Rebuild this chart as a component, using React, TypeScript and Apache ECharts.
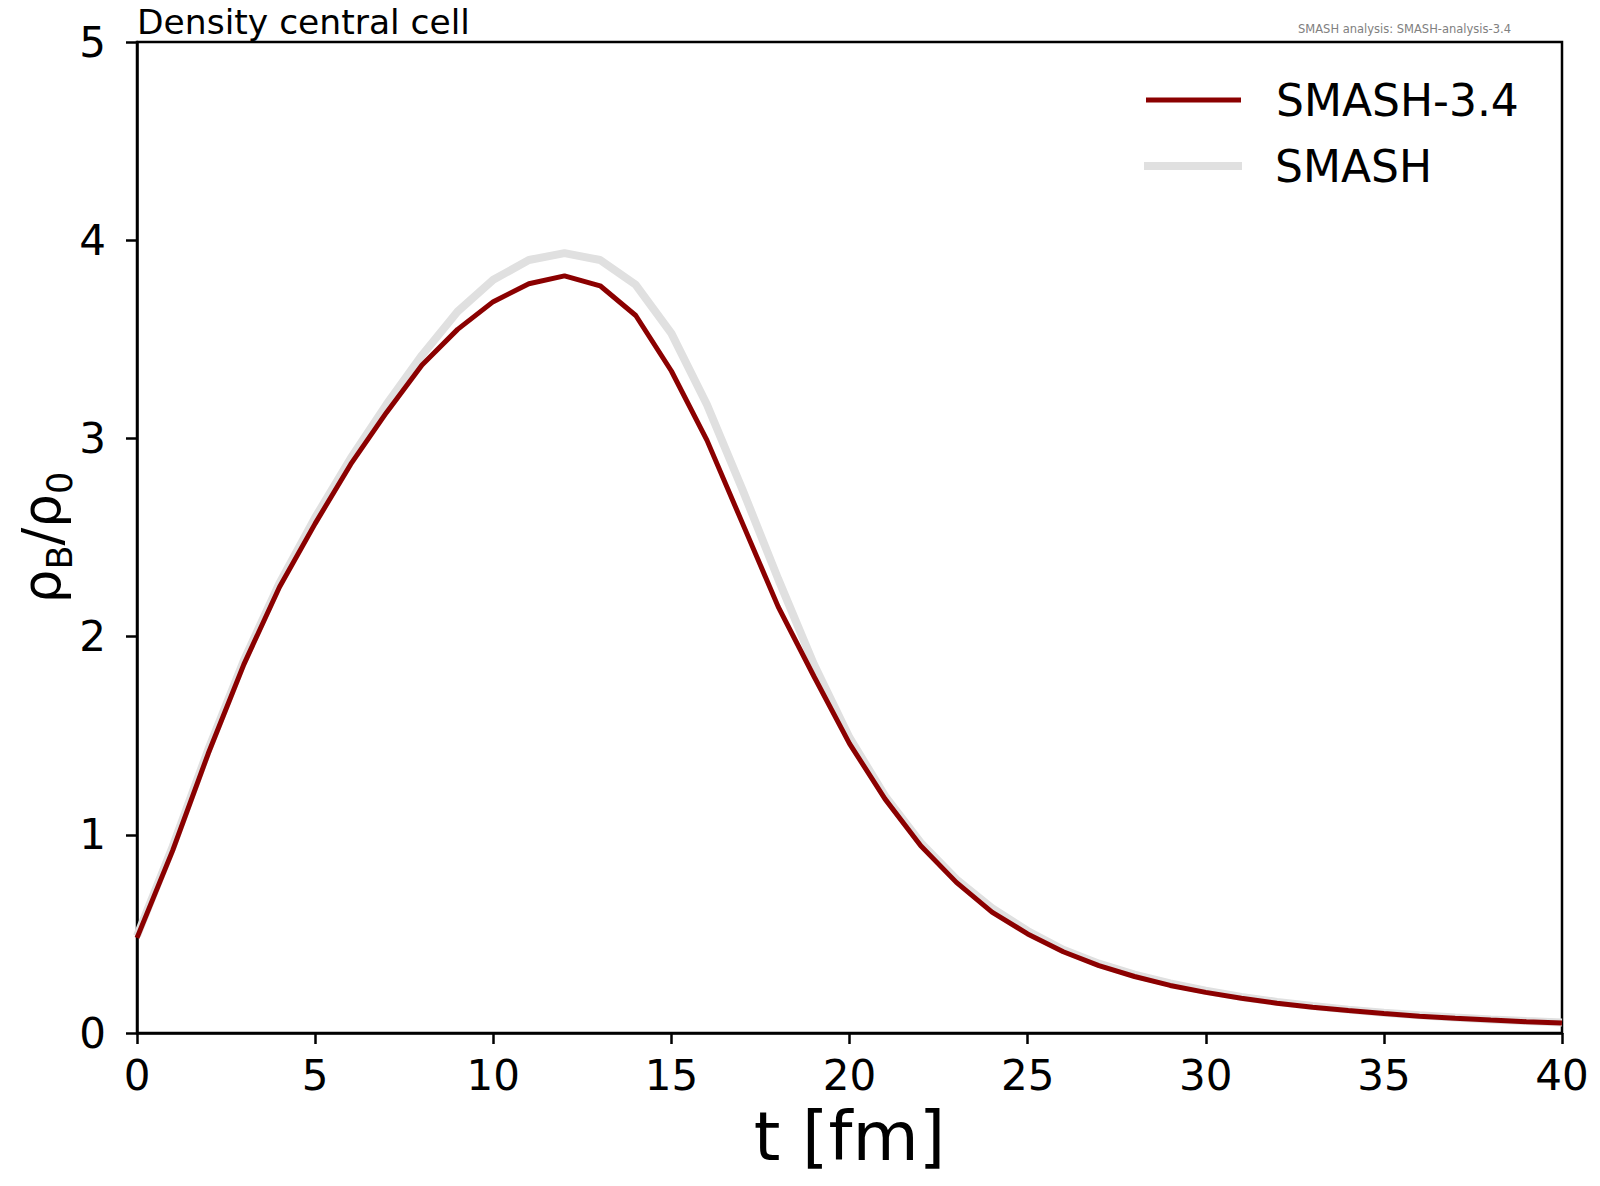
import { useEffect, useRef } from "react"
import * as echarts from "echarts"

// time steps of the central cell output [fm]
const times = [
  0, 1, 2, 3, 4, 5, 6, 7, 8, 9, 10, 11, 12, 13, 14, 15, 16, 17, 18, 19, 20,
  21, 22, 23, 24, 25, 26, 27, 28, 29, 30, 31, 32, 33, 34, 35, 36, 37, 38, 39, 40,
]

// rho_B / rho_0, SMASH-3.4
const smash34 = [
  0.48, 0.92, 1.41, 1.86, 2.25, 2.57, 2.87, 3.13, 3.37, 3.55, 3.69, 3.78, 3.82,
  3.77, 3.62, 3.34, 2.99, 2.57, 2.15, 1.8, 1.46, 1.18, 0.945, 0.76, 0.61, 0.5,
  0.41, 0.34, 0.285, 0.24, 0.205, 0.175, 0.15, 0.13, 0.113, 0.098, 0.085,
  0.074, 0.065, 0.057, 0.05,
]

// rho_B / rho_0, SMASH (reference band)
const smash = [
  0.49, 0.94, 1.43, 1.88, 2.27, 2.6, 2.9, 3.17, 3.42, 3.64, 3.8, 3.9, 3.935,
  3.9, 3.775, 3.53, 3.17, 2.74, 2.29, 1.86, 1.49, 1.195, 0.96, 0.775, 0.63,
  0.515, 0.42, 0.35, 0.295, 0.25, 0.213, 0.182, 0.157, 0.136, 0.118, 0.102,
  0.089, 0.078, 0.068, 0.06, 0.053,
]

const FONT = "DejaVu Sans"

export default function App() {
  const ref = useRef<HTMLDivElement>(null)

  useEffect(() => {
    if (!ref.current) return
    const chart = echarts.init(ref.current, null, { renderer: "svg" })
    const legendText = {
      fontSize: 44,
      lineHeight: 50,
      color: "#000",
      fontFamily: FONT,
      padding: [0, 0, 0, 30],
    }
    chart.setOption({
      animation: false,
      backgroundColor: "#fff",
      textStyle: { fontFamily: FONT },
      grid: {
        left: 137,
        right: 38,
        top: 42,
        bottom: 153,
        outerBoundsMode: "none",
        containLabel: false,
        show: true,
        borderColor: "#000",
        borderWidth: 2.5,
        backgroundColor: "transparent",
      },
      xAxis: {
        type: "value",
        min: 0,
        max: 40,
        interval: 5,
        name: "t [fm]",
        nameLocation: "middle",
        nameGap: 69,
        nameTextStyle: { fontSize: 68, color: "#000", fontFamily: FONT },
        axisLine: { lineStyle: { color: "#000", width: 2.5 } },
        axisTick: { length: 11, lineStyle: { color: "#000", width: 2.5 } },
        axisLabel: { fontSize: 42, color: "#000", margin: 21, fontFamily: FONT },
        splitLine: { show: false },
      },
      yAxis: {
        type: "value",
        min: 0,
        max: 5,
        interval: 1,
        name: "{r|ρ}{s|B}{r|/ρ}{s|0}",
        nameLocation: "middle",
        nameGap: 60,
        nameMoveOverlap: false,
        nameTextStyle: {
          color: "#000",
          fontFamily: FONT,
          rich: {
            r: { fontSize: 53, fontFamily: FONT, color: "#000" },
            s: { fontSize: 35, fontFamily: FONT, color: "#000", padding: [37, 0, 0, 0] },
          },
        },
        axisLine: { lineStyle: { color: "#000", width: 2.5 } },
        axisTick: { length: 11, lineStyle: { color: "#000", width: 2.5 } },
        axisLabel: { fontSize: 42, color: "#000", margin: 31, fontFamily: FONT },
        splitLine: { show: false },
      },
      legend: [
        {
          data: ["SMASH-3.4"],
          left: 1146,
          top: 75,
          padding: 0,
          icon: "rect",
          itemWidth: 95,
          itemHeight: 5,
          itemStyle: { borderWidth: 0 },
          textStyle: legendText,
        },
        {
          data: ["SMASH"],
          left: 1144,
          top: 141,
          padding: 0,
          icon: "rect",
          itemWidth: 98,
          itemHeight: 8,
          itemStyle: { borderWidth: 0 },
          textStyle: { ...legendText, padding: [0, 0, 0, 28] },
        },
      ],
      graphic: [
        {
          type: "text",
          x: 137,
          y: 22,
          style: {
            text: "Density central cell",
            fontSize: 34.5,
            fontFamily: FONT,
            fill: "#000",
            verticalAlign: "middle",
          },
        },
        {
          type: "text",
          x: 1298,
          y: 29,
          style: {
            text: "SMASH analysis: SMASH-analysis-3.4",
            fontSize: 11.5,
            fontFamily: FONT,
            fill: "#808080",
            verticalAlign: "middle",
          },
        },
      ],
      series: [
        {
          name: "SMASH",
          type: "line",
          data: times.map((t, i) => [t, smash[i]]),
          showSymbol: false,
          color: "#e0e0e0",
          lineStyle: { width: 8, color: "#e0e0e0" },
          z: 1,
        },
        {
          name: "SMASH-3.4",
          type: "line",
          data: times.map((t, i) => [t, smash34[i]]),
          showSymbol: false,
          color: "#8b0000",
          lineStyle: { width: 5, color: "#8b0000" },
          z: 2,
        },
      ],
    })
    return () => chart.dispose()
  }, [])

  return (
    <div
      ref={ref}
      style={{ position: "fixed", left: 0, top: 0, width: 1600, height: 1186 }}
    />
  )
}
